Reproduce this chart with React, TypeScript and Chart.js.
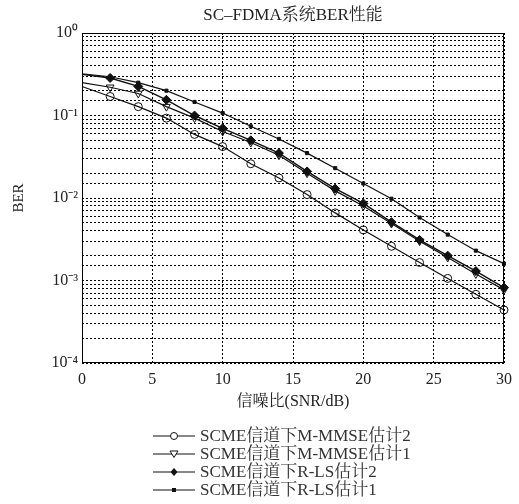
import React, { useEffect, useRef } from 'react';
import { Chart, registerables } from 'chart.js';

Chart.register(...registerables);

// ---------- data ----------
const snrDb = [0, 2, 4, 6, 8, 10, 12, 14, 16, 18, 20, 22, 24, 26, 28, 30];
const berMmse2 = [0.225, 0.17, 0.128, 0.093, 0.059, 0.042, 0.026, 0.0175, 0.011, 0.0066, 0.0041, 0.0026, 0.00165, 0.00106, 0.00068, 0.00044];
const berMmse1 = [0.25, 0.22, 0.185, 0.128, 0.093, 0.064, 0.047, 0.033, 0.02, 0.0122, 0.008, 0.0049, 0.003, 0.0019, 0.0012, 0.00077];
const berRls2 = [0.315, 0.285, 0.225, 0.155, 0.1, 0.07, 0.05, 0.035, 0.021, 0.013, 0.0086, 0.0051, 0.0031, 0.002, 0.0013, 0.00082];
const berRls1 = [0.32, 0.295, 0.25, 0.2, 0.146, 0.107, 0.074, 0.052, 0.035, 0.023, 0.015, 0.0098, 0.0058, 0.0036, 0.0023, 0.0016];

const seriesLabels = [
  'SCME信道下M-MMSE估计2',
  'SCME信道下M-MMSE估计1',
  'SCME信道下R-LS估计2',
  'SCME信道下R-LS估计1',
];
const chartTitle = 'SC–FDMA系统BER性能';
const xTitle = '信噪比(SNR/dB)';
const yTitle = 'BER';
const yTickLabels: Record<string, string> = {
  '0': '10⁰',
  '-1': '10⁻¹',
  '-2': '10⁻²',
  '-3': '10⁻³',
  '-4': '10⁻⁴',
};

const FONT = "'Liberation Serif', 'Times New Roman', 'Noto Serif CJK SC', 'Noto Sans CJK SC', serif";
const INK = '#111';

function drawMarker(ctx: CanvasRenderingContext2D, kind: string, x: number, y: number) {
  ctx.save();
  ctx.strokeStyle = INK;
  ctx.fillStyle = INK;
  ctx.lineWidth = 1;
  ctx.beginPath();
  if (kind === 'circle') {
    ctx.arc(x, y, 3.5, 0, Math.PI * 2);
    ctx.fillStyle = '#fff';
    ctx.fill();
    ctx.stroke();
  } else if (kind === 'tri') {
    ctx.moveTo(x - 4, y - 3);
    ctx.lineTo(x + 4, y - 3);
    ctx.lineTo(x, y + 3.5);
    ctx.closePath();
    ctx.fillStyle = '#fff';
    ctx.fill();
    ctx.stroke();
  } else if (kind === 'diamond') {
    ctx.moveTo(x, y - 4);
    ctx.lineTo(x + 3.5, y);
    ctx.lineTo(x, y + 4);
    ctx.lineTo(x - 3.5, y);
    ctx.closePath();
    ctx.fill();
  } else {
    ctx.rect(x - 2, y - 2, 4, 4);
    ctx.fill();
  }
  ctx.restore();
}

const legendKinds = ['circle', 'tri', 'diamond', 'square'];

const framePlugin = {
  id: 'frameAndLegend',
  afterDraw(chart: any) {
    const { ctx, chartArea } = chart;
    ctx.save();
    ctx.strokeStyle = '#000';
    ctx.lineWidth = 1;
    const l = Math.round(chartArea.left) + 0.5;
    const t = Math.round(chartArea.top) + 0.5;
    const r = Math.round(chartArea.right) - 0.5;
    const b = Math.round(chartArea.bottom) - 0.5;
    ctx.strokeRect(l, t, r - l, b - t);

    // title centred over the plot area
    ctx.font = `17px ${FONT}`;
    ctx.fillStyle = '#222';
    ctx.textAlign = 'center';
    ctx.textBaseline = 'middle';
    ctx.fillText(chartTitle, (chartArea.left + chartArea.right) / 2, 16);
    ctx.restore();

    // legend
    const x0 = 153;
    const x1 = 195;
    const top = 436;
    const step = 18;
    ctx.save();
    ctx.font = `17px ${FONT}`;
    ctx.textBaseline = 'middle';
    ctx.textAlign = 'left';
    seriesLabels.forEach((lab, i) => {
      const y = top + i * step;
      ctx.strokeStyle = INK;
      ctx.lineWidth = 1.2;
      ctx.beginPath();
      ctx.moveTo(x0, y);
      ctx.lineTo(x1, y);
      ctx.stroke();
      drawMarker(ctx, legendKinds[i], (x0 + x1) / 2, y);
      ctx.fillStyle = '#333';
      ctx.fillText(lab, x1 + 5, y + 1);
    });
    ctx.restore();
  },
};

function toPoints(ys: number[]) {
  return snrDb.map((x, i) => ({ x, y: ys[i] }));
}

export default function App() {
  const canvasRef = useRef<HTMLCanvasElement | null>(null);

  useEffect(() => {
    const canvas = canvasRef.current;
    if (!canvas) return;
    const hideFirst = (r: number) => (c: any) => (c.dataIndex === 0 ? 0 : r);
    const chart = new Chart(canvas, {
      type: 'line',
      data: {
        datasets: [
          {
            label: seriesLabels[0],
            data: toPoints(berMmse2),
            borderColor: INK,
            borderWidth: 1.2,
            pointStyle: 'circle',
            pointRadius: hideFirst(4),
            pointBackgroundColor: 'rgba(255,255,255,0)',
            pointBorderColor: INK,
            pointBorderWidth: 1,
            clip: false,
          },
          {
            label: seriesLabels[1],
            data: toPoints(berMmse1),
            borderColor: INK,
            borderWidth: 1.2,
            pointStyle: 'triangle',
            rotation: 180,
            pointRadius: hideFirst(4.5),
            pointBackgroundColor: 'rgba(255,255,255,0)',
            pointBorderColor: INK,
            pointBorderWidth: 1,
            clip: false,
          },
          {
            label: seriesLabels[2],
            data: toPoints(berRls2),
            borderColor: INK,
            borderWidth: 1.4,
            pointStyle: 'rectRot',
            pointRadius: hideFirst(4.5),
            pointBackgroundColor: INK,
            pointBorderColor: INK,
            pointBorderWidth: 1,
            clip: false,
          },
          {
            label: seriesLabels[3],
            data: toPoints(berRls1),
            borderColor: INK,
            borderWidth: 1.2,
            pointStyle: 'rect',
            pointRadius: hideFirst(2.2),
            pointBackgroundColor: INK,
            pointBorderColor: INK,
            pointBorderWidth: 1,
            clip: false,
          },
        ],
      } as any,
      options: {
        animation: false,
        responsive: false,
        events: [],
        layout: { padding: { left: 0, right: 12, top: 33, bottom: 91 } },
        plugins: {
          legend: { display: false },
          tooltip: { enabled: false },
          title: { display: false },
        },
        scales: {
          x: {
            type: 'linear',
            min: 0,
            max: 30,
            ticks: {
              stepSize: 5,
              padding: 7,
              color: '#222',
              font: { family: FONT, size: 16 },
              maxRotation: 0,
            },
            grid: { color: '#000', lineWidth: 1, drawTicks: false },
            border: { display: false, dash: [2, 2] },
            title: {
              display: true,
              text: xTitle,
              color: '#222',
              font: { family: FONT, size: 16 },
              padding: { top: 0, bottom: 2 },
            },
            afterFit: (s: any) => {
              s.height = 50;
            },
          },
          y: {
            type: 'logarithmic',
            min: 1e-4,
            max: 1,
            ticks: {
              autoSkip: false,
              padding: 4,
              color: '#222',
              font: { family: FONT, size: 16 },
              callback: (v: any) => {
                const lv = Math.log10(Number(v));
                const e = Math.round(lv);
                return Math.abs(lv - e) < 1e-6 ? yTickLabels[String(e)] : '';
              },
            },
            grid: { color: '#000', lineWidth: 1, drawTicks: false },
            border: { display: false, dash: [2, 2] },
            title: {
              display: true,
              text: yTitle,
              color: '#222',
              font: { family: FONT, size: 15 },
              padding: { top: 10, bottom: 0 },
            },
            afterFit: (s: any) => {
              s.width = 82;
            },
          },
        },
      } as any,
      plugins: [framePlugin],
    });
    return () => chart.destroy();
  }, []);

  return (
    <div style={{ position: 'fixed', left: 0, top: 0, width: 519, height: 504, background: '#fff' }}>
      <canvas ref={canvasRef} width={519} height={504} style={{ display: 'block', width: 519, height: 504 }} />
    </div>
  );
}
